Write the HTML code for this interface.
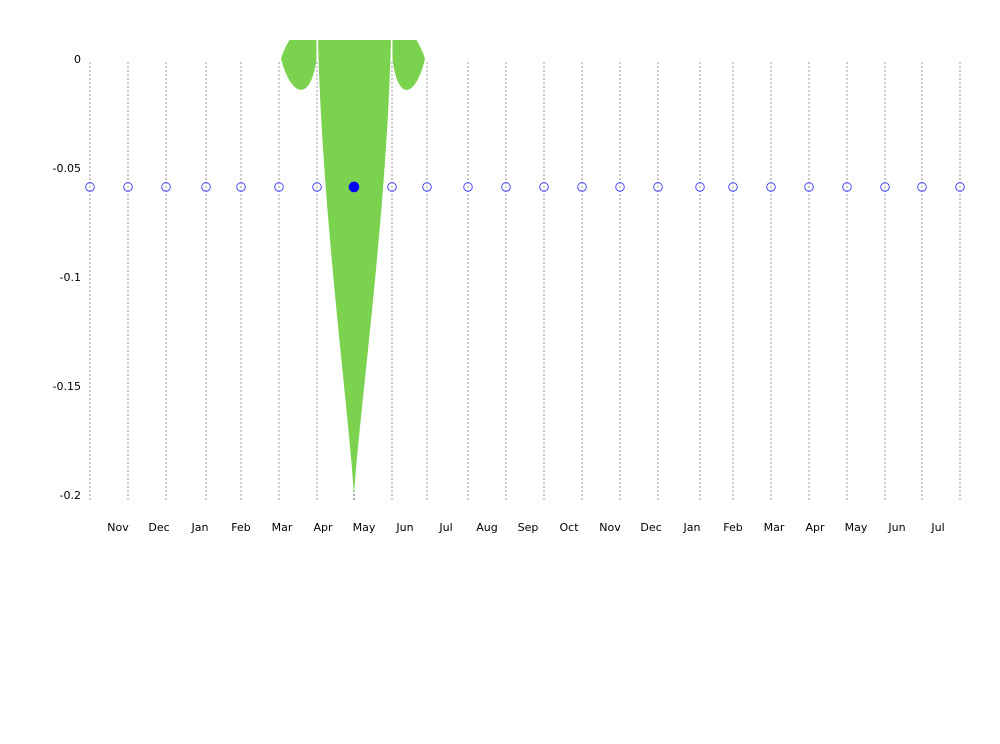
<!DOCTYPE html>
<html><head><meta charset="utf-8"><style>
html,body{margin:0;padding:0;background:#fff;}
svg{display:block;font-family:"DejaVu Sans","Liberation Sans",sans-serif;}
</style></head><body>
<svg id="chart" width="1000" height="744" viewBox="0 0 1000 744" xmlns="http://www.w3.org/2000/svg">
<defs><clipPath id="plotclip"><rect x="0" y="40" width="1000" height="470"/></clipPath></defs>
<g id="grid"></g>
<g id="area" clip-path="url(#plotclip)"></g>
<g id="yaxis"></g>
<g id="xaxis"></g>
<g id="markers"></g>
</svg>
<script>
// data
const pointDates = [0,1,2,3,4,5,6,7,8,9,10,11,12,13,14,15,16,17,18,19,20,21,22,23];
const pointX = [90,128,166,206,241,279,317,354,392,427,468,506,544,582,620,658,700,733,771,809,847,885,922,960];
const markerValue = -0.0587;
const selectedIndex = 7;
const areaStart = 5;
const areaValues = [0,0,-0.2,0,0];
const yTicks = [0,-0.05,-0.1,-0.15,-0.2];
const yTickLabels = ["0","-0.05","-0.1","-0.15","-0.2"];
const monthLabels = ["Nov","Dec","Jan","Feb","Mar","Apr","May","Jun","Jul","Aug","Sep","Oct","Nov","Dec","Jan","Feb","Mar","Apr","May","Jun","Jul"];

const NS="http://www.w3.org/2000/svg";
function y(v){return 59 + (-v)*2180;}
function x(i){return pointX[i];}
function mk(tag,attrs,parent){const e=document.createElementNS(NS,tag);for(const k in attrs)e.setAttribute(k,attrs[k]);parent.appendChild(e);return e;}

const grid=document.getElementById('grid');
pointDates.forEach((d,i)=>{
  const l=mk('line',{x1:x(i),x2:x(i),y1:62,y2:500,stroke:i===selectedIndex?'#555':'#999','stroke-width':1,'stroke-dasharray':'2,2'},grid);
  
  
});

const ya=document.getElementById('yaxis');
yTicks.forEach((t,i)=>{
  const tx=mk('text',{x:81,y:y(t)+4,'text-anchor':'end','font-size':11,fill:'#000'},ya);
  tx.textContent=yTickLabels[i];
  
  
});

const xa=document.getElementById('xaxis');
monthLabels.forEach((m,i)=>{
  const tx=mk('text',{x:118+i*41,y:531,'text-anchor':'middle','font-size':11,fill:'#000'},xa);
  tx.textContent=m;
  
  
});

// area shape derived from data
const area=document.getElementById('area');
let d='';
const topY=y(0)-20;
for(let k=0;k<areaValues.length-1;k++){
  const i=areaStart+k, x0=x(i), x1=x(i+1), v0=areaValues[k], v1=areaValues[k+1];
  if(v0===v1){
    const prevV=areaValues[k-1]!==undefined?areaValues[k-1]:0;
    const nextV=areaValues[k+2]!==undefined?areaValues[k+2]:0;
    const neighbor=Math.min(prevV,nextV,0);
    const dipY=y(v0 + neighbor*0.065*1.45);
    const w=x1-x0;
    const leftSide = nextV<v1;
    if(leftSide){
      d+=`M${x0+11},${topY} Q${x0+4},${topY+12} ${x0+2},${y(v0)} C${x0+w*0.35},${dipY} ${x0+w*0.85},${dipY} ${x1-0.5},${y(v1)} L${x1-0.5},${topY} Z `;
    } else {
      d+=`M${x0+0.5},${topY} L${x0+0.5},${y(v0)} C${x0+w*0.15},${dipY} ${x0+w*0.65},${dipY} ${x1-2},${y(v1)} Q${x1-4},${topY+12} ${x1-11},${topY} Z `;
    }
  } else if(v1<v0){
    const x2=x(i+2), vb=v1;
    const w=x1-x0, w2=x2-x1;
    d+=`M${x0+1},${topY} C${x0+5},${y(vb)*0.35+y(0)*0.65} ${x0+w*0.85},${y(vb)*0.8+y(0)*0.2} ${x1},${y(vb)} C${x1+w2*0.15},${y(vb)*0.8+y(0)*0.2} ${x2-5},${y(vb)*0.35+y(0)*0.65} ${x2-1},${topY} Z `;
  }
}
const p=mk('path',{d:d,fill:'#7ad24f',stroke:'none'},area);



const mg=document.getElementById('markers');
pointDates.forEach((dd,i)=>{
  const sel=i===selectedIndex;
  const c=mk('circle',{cx:x(i),cy:y(markerValue),r:sel?4.8:4.3,fill:sel?'#0000ff':'none',stroke:sel?'#0000ff':'#4a4aff','stroke-width':1},mg);
  
  
});
</script>
</body></html>
